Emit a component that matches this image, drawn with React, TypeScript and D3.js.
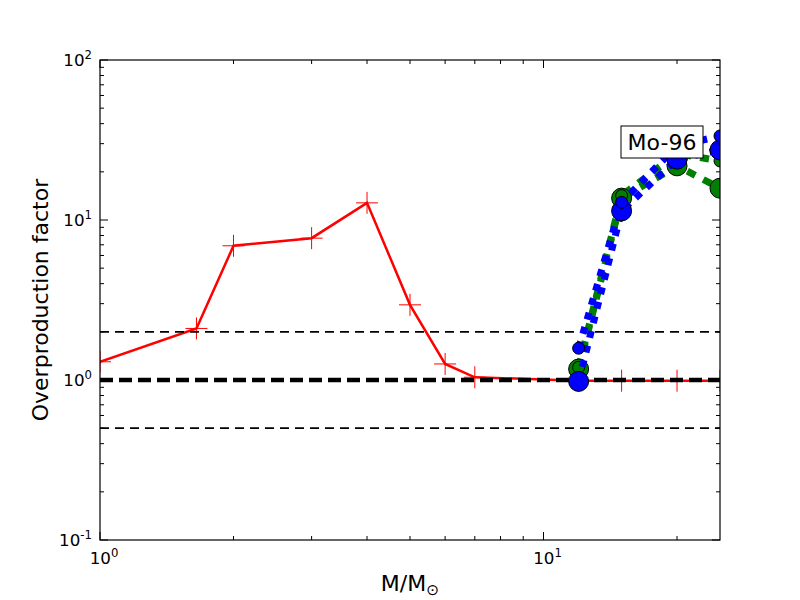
import React from 'react';
import * as d3 from 'd3';

const redMass = [1, 1.65, 2, 3, 4, 5, 6, 7, 12, 15, 20, 25];
const redFactor = [1.3, 2.1, 6.9, 7.7, 12.8, 2.95, 1.26, 1.04, 0.99, 0.99, 0.99, 0.99];

const modelMass = [12, 15, 20, 25];
const greenFactor = [1.17, 13.7, 21.8, 15.8];
const greenAltFactor = [1.2, 14.2, 26, 23.4];
const blueFactor = [0.98, 11.4, 24, 27.4];
const blueAltFactor = [1.58, 12.9, 29, 33.5];

const refLevels = [2, 1, 0.5];
const yTicks = [0.1, 1, 10, 100];
const yTickExp = ['-1', '0', '1', '2'];
const xTicks = [1, 10];
const xTickExp = ['0', '1'];
const labelText = 'Mo-96';

const W = 800, H = 600;
const L = 100, R = 720, T = 60, B = 540;
const FONT = 'DejaVu Sans, sans-serif';

export default function App() {
  const x = d3.scaleLog().domain([1, 25]).range([L, R]);
  const y = d3.scaleLog().domain([0.1, 100]).range([B, T]);
  const line = d3.line<[number, number]>().x(d => x(d[0])).y(d => y(d[1]));
  const zip = (xs: number[], ys: number[]) => xs.map((v, i) => [v, ys[i]] as [number, number]);

  const red = zip(redMass, redFactor);
  const green = zip(modelMass, greenFactor);
  const greenAlt = zip(modelMass, greenAltFactor);
  const blue = zip(modelMass, blueFactor);
  const blueAlt = zip(modelMass, blueAltFactor);

  const yMinor: number[] = [];
  for (const dec of [0.1, 1, 10]) for (let k = 2; k <= 9; k++) yMinor.push(dec * k);
  const xMinor: number[] = [];
  for (const dec of [1, 10]) for (let k = 2; k <= 9; k++) if (dec * k < 25) xMinor.push(dec * k);

  return (
    <svg width={W} height={H} style={{ position: 'absolute', left: 0, top: 0, background: '#fff' }} fontFamily={FONT}>
      <defs>
        <clipPath id="plotclip">
          <rect x={L} y={T} width={R - L} height={B - T} />
        </clipPath>
      </defs>
      <rect x={0} y={0} width={W} height={H} fill="#fff" />
      <g clipPath="url(#plotclip)">
        <path d={line(red) || ''} fill="none" stroke="#ff0000" strokeWidth={2.5} />
        {red.map((d, i) => (
          <g key={'r' + i} stroke="#ff0000" strokeWidth={1}>
            <line x1={x(d[0]) - 11} x2={x(d[0]) + 11} y1={y(d[1])} y2={y(d[1])} />
            <line x1={x(d[0])} x2={x(d[0])} y1={y(d[1]) - 11} y2={y(d[1]) + 11} />
          </g>
        ))}
        {refLevels.map((v, i) => (
          <line key={'h' + i} x1={L} x2={R} y1={y(v)} y2={y(v)} stroke="#000"
            strokeWidth={v === 1 ? 4.5 : 1.8} strokeDasharray={v === 1 ? '13,6' : '9,6'} />
        ))}
        <path d={line(greenAlt) || ''} fill="none" stroke="#008000" strokeWidth={7} strokeDasharray="9,9" />
        <path d={line(green) || ''} fill="none" stroke="#008000" strokeWidth={7} strokeDasharray="9,9" />
        {green.map((d, i) => (
          <circle key={'g' + i} cx={x(d[0])} cy={y(d[1])} r={10} fill="#008000" stroke="#000" strokeWidth={1} />
        ))}
        {greenAlt.map((d, i) => (
          <circle key={'ga' + i} cx={x(d[0])} cy={y(d[1])} r={6} fill="#008000" stroke="#000" strokeWidth={1} />
        ))}
        <path d={line(blueAlt) || ''} fill="none" stroke="#0000ff" strokeWidth={7} strokeDasharray="7,8" />
        <path d={line(blue) || ''} fill="none" stroke="#0000ff" strokeWidth={7} strokeDasharray="7,8" />
        {blue.map((d, i) => (
          <circle key={'b' + i} cx={x(d[0])} cy={y(d[1])} r={10} fill="#0000ff" stroke="#000" strokeWidth={1} />
        ))}
        {blueAlt.map((d, i) => (
          <circle key={'ba' + i} cx={x(d[0])} cy={y(d[1])} r={6} fill="#0000ff" stroke="#000" strokeWidth={1} />
        ))}
      </g>

      {/* label box */}
      <rect x={621} y={126} width={82} height={32} fill="#fff" stroke="#000" strokeWidth={1} />
      <text x={662} y={149.5} textAnchor="middle" fontSize={22}>{labelText}</text>

      {/* frame */}
      <rect x={L} y={T} width={R - L} height={B - T} fill="none" stroke="#000" strokeWidth={1.2} />

      {/* y ticks */}
      {yTicks.map((v, i) => (
        <g key={'yt' + i} stroke="#000" strokeWidth={1}>
          <line x1={L} x2={L + 8} y1={y(v)} y2={y(v)} />
          <line x1={R} x2={R - 8} y1={y(v)} y2={y(v)} />
        </g>
      ))}
      {yMinor.map((v, i) => (
        <g key={'ym' + i} stroke="#000" strokeWidth={1}>
          <line x1={L} x2={L + 4} y1={y(v)} y2={y(v)} />
          <line x1={R} x2={R - 4} y1={y(v)} y2={y(v)} />
        </g>
      ))}
      {xTicks.map((v, i) => (
        <g key={'xt' + i} stroke="#000" strokeWidth={1}>
          <line x1={x(v)} x2={x(v)} y1={B} y2={B - 8} />
          <line x1={x(v)} x2={x(v)} y1={T} y2={T + 8} />
        </g>
      ))}
      {xMinor.map((v, i) => (
        <g key={'xm' + i} stroke="#000" strokeWidth={1}>
          <line x1={x(v)} x2={x(v)} y1={B} y2={B - 4} />
          <line x1={x(v)} x2={x(v)} y1={T} y2={T + 4} />
        </g>
      ))}

      {/* y tick labels */}
      {yTicks.map((v, i) => (
        <text key={'yl' + i} x={L - 8} y={y(v) + 6} textAnchor="end" fontSize={16.7}>
          10<tspan dy={-7} fontSize={11.7}>{yTickExp[i]}</tspan>
        </text>
      ))}
      {/* x tick labels */}
      {xTicks.map((v, i) => (
        <text key={'xl' + i} x={x(v) + 4} y={B + 24} textAnchor="middle" fontSize={16.7}>
          10<tspan dy={-7} fontSize={11.7}>{xTickExp[i]}</tspan>
        </text>
      ))}

      {/* axis labels */}
      <text transform={`translate(48,300) rotate(-90)`} textAnchor="middle" fontSize={22}>Overproduction factor</text>
      <text x={410} y={591} textAnchor="middle" fontSize={22}>
        M/M<tspan dy={4} fontSize={15.5}>⊙</tspan>
      </text>
    </svg>
  );
}
